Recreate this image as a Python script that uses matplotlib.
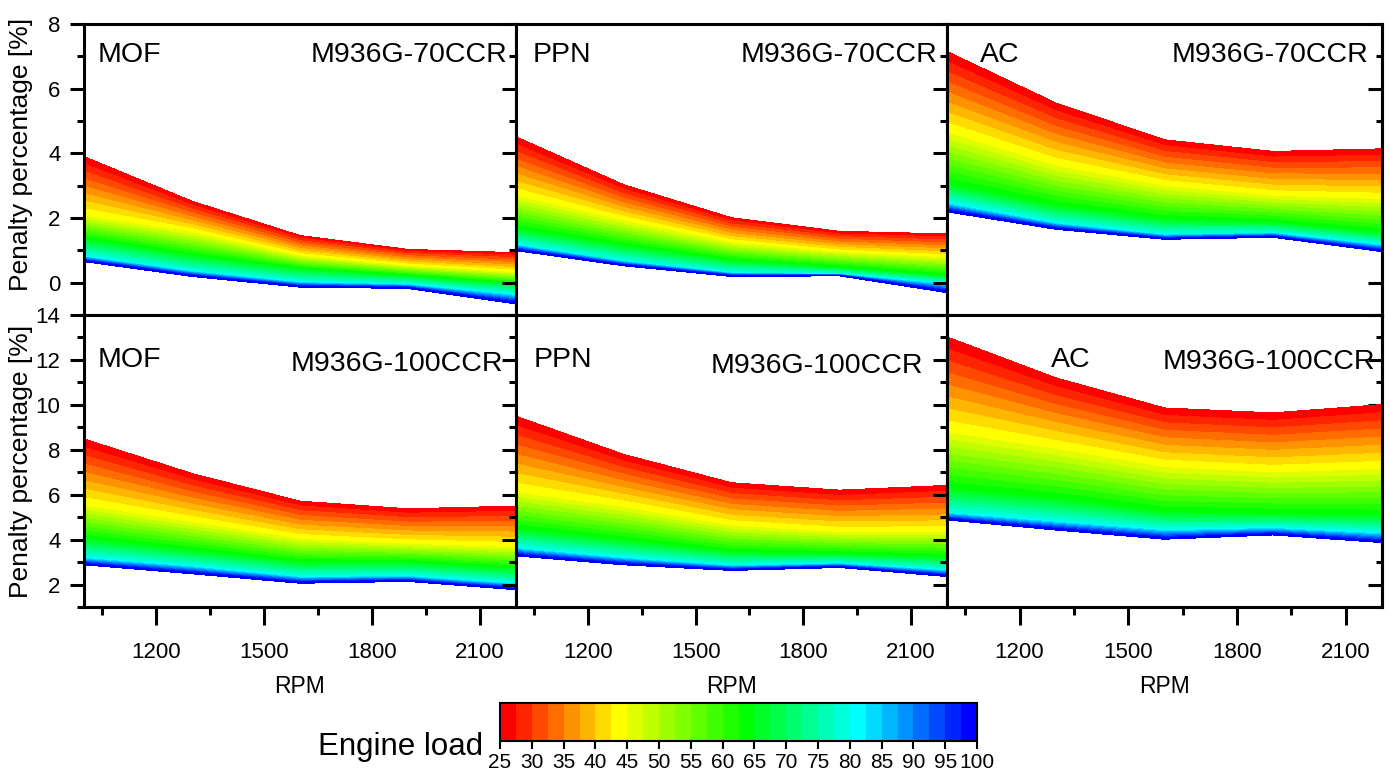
import numpy as np
import matplotlib
matplotlib.use("Agg")
import matplotlib.pyplot as plt
from matplotlib.colors import LinearSegmentedColormap

plt.rcParams["font.family"] = ["Liberation Sans", "DejaVu Sans"]

# ---- data ----
rpm = [1000, 1300, 1600, 1900, 2200]
loads = [25, 45, 65, 80, 100]

# penalty [%] for each load (rows) at each rpm (columns)
mof_70 = [[3.89, 2.51, 1.45, 1.02, 0.92],
          [2.05, 1.54, 0.81, 0.50, 0.30],
          [1.33, 0.81, 0.40, 0.19, -0.06],
          [0.81, 0.35, 0.01, -0.06, -0.37],
          [0.66, 0.20, -0.13, -0.17, -0.65]]
ppn_70 = [[4.50, 3.02, 2.00, 1.58, 1.50],
          [2.66, 1.89, 1.22, 0.92, 0.76],
          [1.64, 1.12, 0.66, 0.45, 0.19],
          [1.17, 0.66, 0.30, 0.25, -0.03],
          [1.00, 0.53, 0.20, 0.22, -0.30]]
ac_70 = [[7.14, 5.55, 4.41, 4.05, 4.13],
         [4.62, 3.59, 2.97, 2.66, 2.56],
         [3.02, 2.35, 1.94, 1.84, 1.53],
         [2.46, 1.84, 1.48, 1.53, 1.17],
         [2.20, 1.66, 1.35, 1.41, 0.97]]
mof_100 = [[8.47, 6.93, 5.70, 5.36, 5.48],
           [5.48, 4.74, 4.00, 3.78, 3.63],
           [4.00, 3.48, 2.96, 2.96, 2.67],
           [3.19, 2.81, 2.34, 2.37, 2.04],
           [2.89, 2.49, 2.07, 2.15, 1.78]]
ppn_100 = [[9.48, 7.78, 6.52, 6.19, 6.40],
           [6.07, 5.41, 4.59, 4.30, 4.30],
           [4.44, 3.93, 3.41, 3.33, 3.19],
           [3.63, 3.19, 2.84, 2.93, 2.64],
           [3.29, 2.89, 2.64, 2.77, 2.37]]
ac_100 = [[13.01, 11.19, 9.85, 9.63, 10.00],
          [8.74, 8.00, 7.19, 6.96, 7.11],
          [6.22, 5.78, 5.19, 5.11, 5.04],
          [5.19, 4.81, 4.44, 4.52, 4.30],
          [4.89, 4.44, 4.03, 4.22, 3.88]]

panels = [[("MOF", "M936G-70CCR", mof_70), ("PPN", "M936G-70CCR", ppn_70), ("AC", "M936G-70CCR", ac_70)],
          [("MOF", "M936G-100CCR", mof_100), ("PPN", "M936G-100CCR", ppn_100), ("AC", "M936G-100CCR", ac_100)]]

levels = np.arange(25, 100.1, 2.5)
cbar_ticks = list(range(25, 101, 5))

# rainbow red -> yellow -> green -> cyan -> blue, 30 steps
cmap = LinearSegmentedColormap.from_list(
    "load", [(0, "#ff0000"), (7 / 29, "#ffff00"), (15 / 29, "#00ff00"),
             (22 / 29, "#00ffff"), (1, "#0000ff")]).resampled(30)

W, H = 1390, 782
fig = plt.figure(figsize=(W / 100, H / 100), dpi=100)


def box(x0, y0, x1, y1):
    return [x0 / W, 1 - y1 / H, (x1 - x0) / W, (y1 - y0) / H]


col_px = [(84, 516), (516, 947), (947, 1382)]
row_px = [(24, 315), (315, 607)]
ylims = [(-1, 8), (1, 14)]

tag_pos = [[(98, 62, 507, 62), (533, 62, 937, 62), (980, 62, 1368, 62)],
           [(98, 367, 503, 371), (534, 367, 923, 373), (1051, 367, 1375, 369)]]

for r in range(2):
    for c in range(3):
        name, engine, vals = panels[r][c]
        ax = fig.add_axes(box(col_px[c][0], row_px[r][0], col_px[c][1], row_px[r][1]))
        X = np.tile(rpm, (len(loads), 1))
        Y = np.array(vals)
        Z = np.tile(np.array(loads)[:, None], (1, len(rpm)))
        cs = ax.contourf(X, Y, Z, levels=levels, cmap=cmap, vmin=25, vmax=100)
        cs.set_edgecolor("face")
        cs.set_linewidth(0.4)

        ax.set_xlim(1000, 2200)
        ax.set_ylim(*ylims[r])
        ax.set_xticks([1200, 1500, 1800, 2100])
        ax.set_xticks([1050, 1350, 1650, 1950], minor=True)
        lo, hi = ylims[r]
        ax.set_yticks(np.arange(lo + 1, hi + 0.1, 2))
        ax.set_yticks(np.arange(lo, hi + 0.1, 2), minor=True)
        for s in ax.spines.values():
            s.set_linewidth(2.2)

        ax.tick_params(axis="x", which="major", direction="out", length=13, width=2.2,
                       labelsize=16, pad=12, top=False, labelbottom=(r == 1))
        ax.tick_params(axis="x", which="minor", direction="out", length=6, width=2.2, top=False)
        ax.tick_params(axis="y", which="major", direction="out", length=10, width=2.2,
                       labelsize=16, pad=7, right=False, labelleft=(c == 0))
        ax.tick_params(axis="y", which="minor", direction="out", length=5, width=2.2, right=False)
        if c == 2:
            sec = ax.secondary_yaxis("right")
            sec.set_yticks(ax.get_yticks())
            sec.set_yticks(ax.get_yticks(minor=True), minor=True)
            sec.tick_params(which="major", direction="in", length=10, width=2.2, labelright=False)
            sec.tick_params(which="minor", direction="in", length=4.5, width=2.2)
            sec.spines["right"].set_linewidth(2.2)

        x0, y0, x1, y1 = tag_pos[r][c]
        fig.text(x0 / W, 1 - y0 / H, name, fontsize=20.5, ha="left", va="baseline")
        fig.text(x1 / W, 1 - y1 / H, engine, fontsize=20.5, ha="right", va="baseline")

        if r == 1:
            mid = (col_px[c][0] + col_px[c][1]) / 2
            fig.text(mid / W, 1 - 693 / H, "RPM", fontsize=16.5, ha="center", va="baseline")

for yc in [154, 461]:
    fig.text(21 / W, 1 - yc / H, "Penalty percentage [%]", fontsize=19, rotation=90,
             ha="center", va="center")

# colour bar for engine load
cax = fig.add_axes(box(500, 703, 977, 741))
cb = fig.colorbar(cs, cax=cax, orientation="horizontal", ticks=cbar_ticks)
cb.outline.set_linewidth(1.5)
cax.tick_params(direction="out", length=6, width=1.5, labelsize=15, pad=3)
cax.xaxis.set_ticklabels([str(t) for t in cbar_ticks])
fig.text(483 / W, 1 - 755 / H, "Engine load", fontsize=22.5, ha="right", va="baseline")

fig.savefig("out.png", dpi=100)
